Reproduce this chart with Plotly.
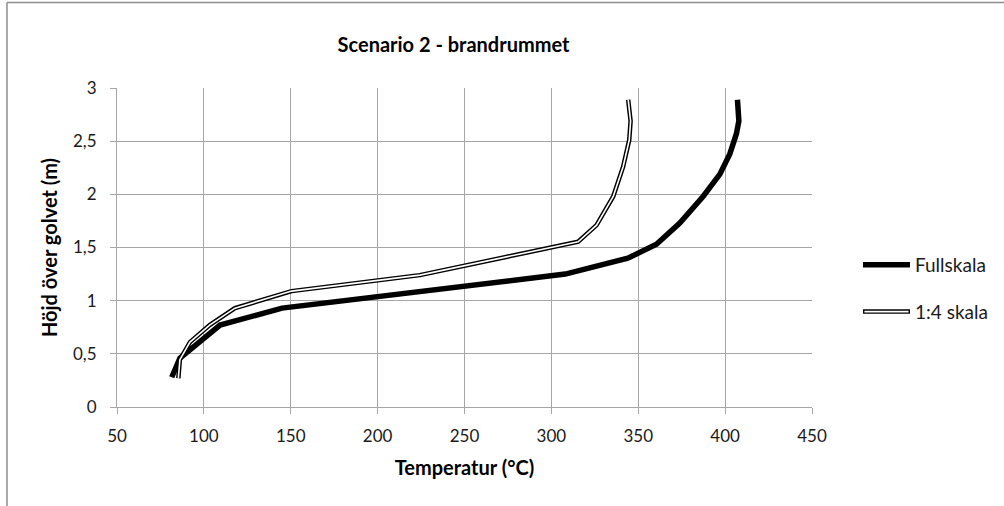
import plotly.graph_objects as go

# Temperature profiles in the fire room (height above floor vs temperature)
full_temp = [81.5, 86.2, 109.3, 145.0, 308.0, 344.0, 360.5, 373.9, 387.3, 397.0, 402.7, 406.5, 407.9, 407.1]
full_height = [0.28, 0.46, 0.77, 0.93, 1.25, 1.40, 1.53, 1.73, 1.98, 2.19, 2.38, 2.57, 2.69, 2.89]

model_temp = [85.3, 86.2, 92.0, 103.5, 117.9, 150.5, 224.3, 315.4, 326.0, 335.6, 341.3, 344.8, 345.6, 344.2]
model_height = [0.27, 0.445, 0.61, 0.773, 0.93, 1.09, 1.24, 1.554, 1.71, 1.98, 2.26, 2.51, 2.69, 2.89]

x_ticks = [50, 100, 150, 200, 250, 300, 350, 400, 450]
y_ticks = [0, 0.5, 1, 1.5, 2, 2.5, 3]
y_ticktext = ["0", "0,5", "1", "1,5", "2", "2,5", "3"]

series_names = ["Fullskala", "1:4 skala"]

FONT = "Lato, Carlito, Calibri, sans-serif"
GRID = "#a6a6a6"
TEXT = "#1a1a1a"

fig = go.Figure()

fig.add_trace(go.Scatter(
    x=full_temp, y=full_height, mode="lines", name=series_names[0],
    line=dict(color="black", width=5.5), showlegend=False,
))
# double line: dark outline with a white core
fig.add_trace(go.Scatter(
    x=model_temp, y=model_height, mode="lines", name=series_names[1],
    line=dict(color="black", width=4.5), showlegend=False,
))
fig.add_trace(go.Scatter(
    x=model_temp, y=model_height, mode="lines", name=series_names[1],
    line=dict(color="white", width=1.6), showlegend=False,
))

# hand-drawn legend on the right
leg_x0, leg_x1, leg_tx = 1.0734, 1.1410, 1.1453
leg_y = [0.446, 0.299]
shapes = [
    dict(type="line", xref="paper", yref="paper", x0=leg_x0, x1=leg_x1, y0=leg_y[0], y1=leg_y[0],
         line=dict(color="black", width=5.5)),
    dict(type="line", xref="paper", yref="paper", x0=leg_x0, x1=leg_x1, y0=leg_y[1], y1=leg_y[1],
         line=dict(color="black", width=4.5)),
    dict(type="line", xref="paper", yref="paper", x0=leg_x0 + 0.002, x1=leg_x1 - 0.002, y0=leg_y[1], y1=leg_y[1],
         line=dict(color="white", width=1.6)),
    # chart area border
    dict(type="line", xref="paper", yref="paper", x0=-0.1583, x1=-0.1583, y0=-0.35, y1=1.268,
         line=dict(color="#8c8c8c", width=1.5)),
    dict(type="line", xref="paper", yref="paper", x0=-0.1583, x1=1.3, y0=1.268, y1=1.268,
         line=dict(color="#8c8c8c", width=1.5)),
]
annotations = [
    dict(xref="paper", yref="paper", x=leg_tx, y=yy, text=t, showarrow=False,
         xanchor="left", yanchor="middle", font=dict(family=FONT, size=19, color=TEXT))
    for yy, t in zip(leg_y, series_names)
]

fig.update_layout(
    width=1004, height=506,
    margin=dict(l=117, r=192, t=88, b=98.5),
    paper_bgcolor="white", plot_bgcolor="white",
    title=dict(text="<b>Scenario 2 - brandrummet</b>", x=0.4517, xanchor="center",
               y=1 - 45 / 506, yanchor="middle",
               font=dict(family=FONT, size=20, color="black")),
    shapes=shapes, annotations=annotations,
    font=dict(family=FONT, color=TEXT),
)

fig.update_xaxes(
    range=[50, 450], tickvals=x_ticks, ticks="outside", ticklen=6, tickcolor=GRID,
    ticklabelstandoff=8,
    showgrid=True, gridcolor=GRID, gridwidth=1, zeroline=False,
    showline=True, linecolor=GRID, linewidth=1,
    tickfont=dict(family=FONT, size=17, color=TEXT),
    title=dict(text="<b>Temperatur (°C)</b>", standoff=15,
               font=dict(family=FONT, size=20, color="black")),
)
fig.update_yaxes(
    range=[0, 3], tickvals=y_ticks, ticktext=y_ticktext, ticks="outside", ticklen=6, tickcolor=GRID,
    ticklabelstandoff=10,
    showgrid=True, gridcolor=GRID, gridwidth=1, zeroline=False,
    showline=True, linecolor=GRID, linewidth=1,
    tickfont=dict(family=FONT, size=17, color=TEXT),
    title=dict(text="<b>Höjd över golvet (m)</b>", standoff=10,
               font=dict(family=FONT, size=20, color="black")),
)

fig.write_html("out.html")
